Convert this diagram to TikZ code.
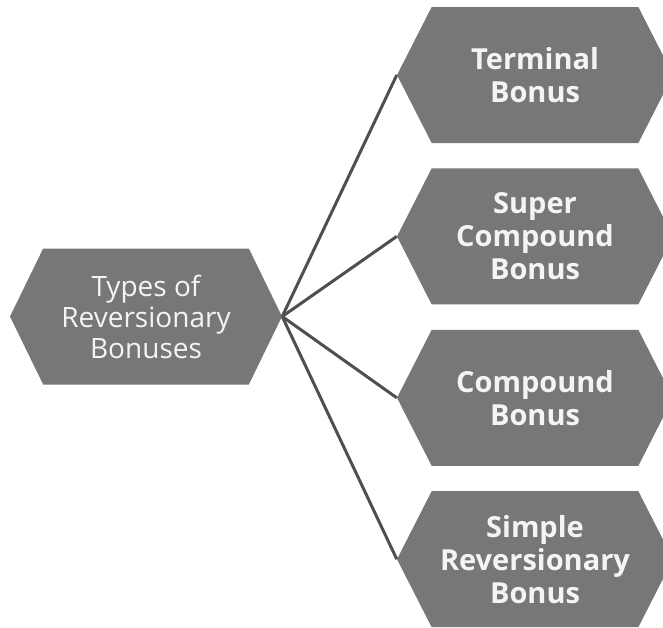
\documentclass[tikz,border=0pt]{standalone}
\usepackage{fontspec}
\setmainfont{Open Sans}
\usetikzlibrary{positioning,shapes.symbols}

\definecolor{hexgray}{HTML}{777777}
\definecolor{linegray}{HTML}{4F4F4F}
\definecolor{hextext}{HTML}{F4F4F4}

\tikzset{
  hexbox/.style={shape=signal, signal to=east and west, fill=hexgray,
    text=hextext, align=center, inner sep=0pt, minimum height=136pt},
  mainhex/.style={hexbox, signal pointer angle=128, minimum width=272pt,
    font=\fontsize{28}{31}\selectfont},
  typehex/.style={hexbox, signal pointer angle=126, minimum width=276pt,
    font=\bfseries\fontsize{29}{33}\selectfont},
  link/.style={draw=linegray, line width=3pt}
}

\begin{document}
\begin{tikzpicture}[x=1pt, y=1pt, node distance=25pt]
        \useasboundingbox (0,0) rectangle (663,-627);
        % Nodes
        \node (types) [mainhex] at (146,-316.5) {Types of\\Reversionary\\Bonuses};
        \node (terminal) [typehex] at (535,-75) {Terminal\\Bonus};
        \node (super) [typehex, below=of terminal] {Super\\Compound\\Bonus};
        \node (compound) [typehex, below=of super] {Compound\\Bonus};
        \node (simple) [typehex, below=of compound] {Simple\\Reversionary\\Bonus};

        % Lines
        \draw[link] (types.east) -- (terminal.west);
        \draw[link] (types.east) -- (super.west);
        \draw[link] (types.east) -- (compound.west);
        \draw[link] (types.east) -- (simple.west);
    \end{tikzpicture}
\end{document}
